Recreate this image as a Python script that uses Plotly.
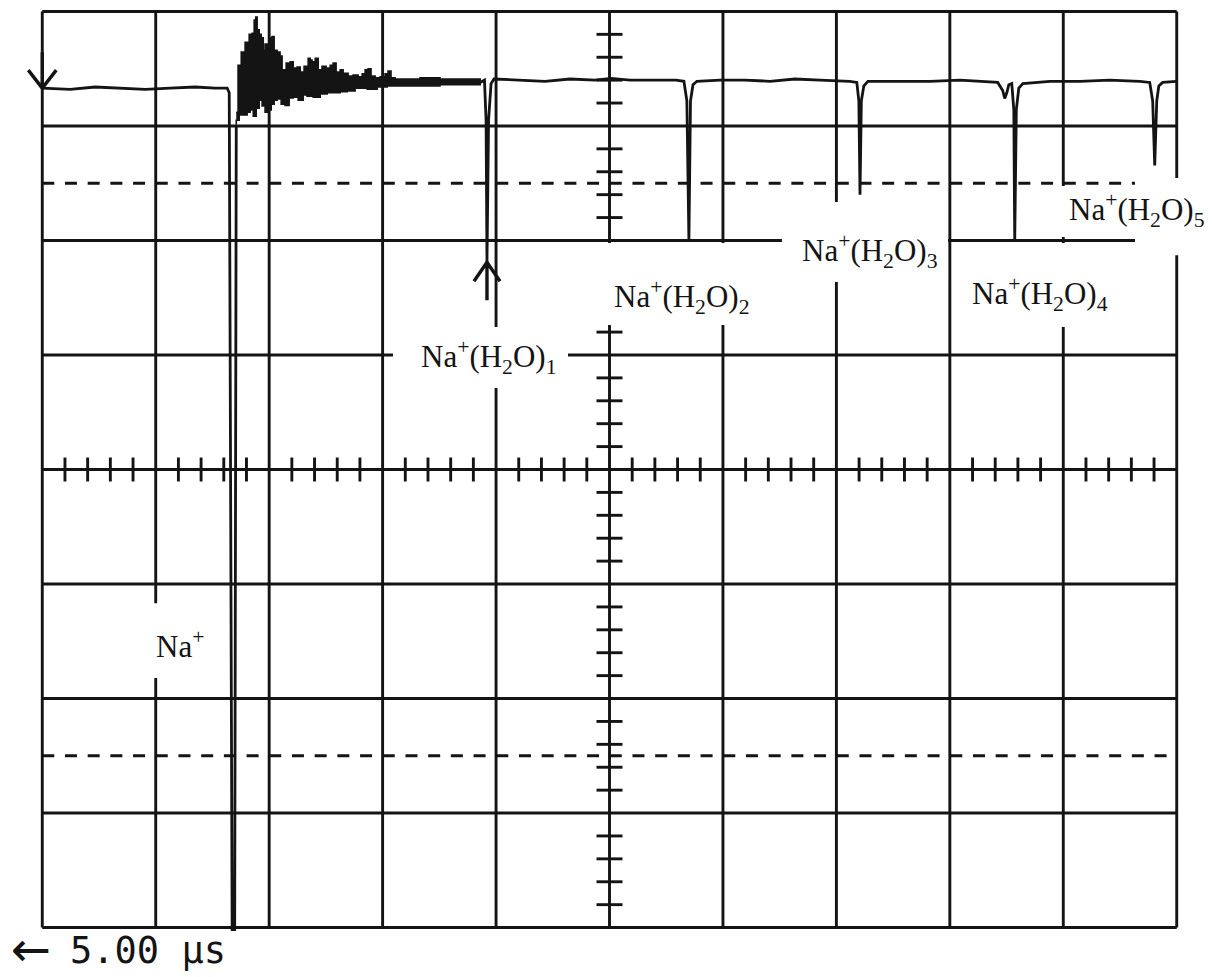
import plotly.graph_objects as go

# Time base and screen graticule of the oscilloscope
US_PER_DIV = 5.0
N_XDIV = 10
N_YDIV = 8
T_MAX = US_PER_DIV * N_XDIV
Y_HALF = N_YDIV / 2

# Trace before the ringing: flat baseline, then the saturated Na+ peak
pre_t = [0.00, 1.23, 2.33, 3.44, 4.54, 5.64, 6.74, 7.62, 8.15, 8.24, 8.37, 8.48, 8.55]
pre_v = [3.33, 3.32, 3.34, 3.33, 3.32, 3.33, 3.34, 3.33, 3.33, 3.29, -4.10, -4.10, 3.00]

# Ringing after the Na+ peak: upper and lower envelope of the band
ring_upper_t = [8.55, 8.63, 8.77, 8.94, 9.12, 9.25, 9.34, 9.41, 9.47, 9.56, 9.65, 9.74,
                9.82, 9.91, 10.04, 10.13, 10.22, 10.35, 10.48, 10.57, 10.75, 10.93,
                11.06, 11.23, 11.37, 11.54, 11.72, 11.81, 11.89, 12.03, 12.16, 12.33,
                12.51, 12.69, 12.82, 12.95, 13.13, 13.26, 13.48, 13.70, 13.92, 14.10,
                14.23, 14.36, 14.49, 14.67, 14.89, 15.11, 15.24, 15.37, 15.55, 15.99,
                16.65, 17.53, 18.41, 19.30]
ring_upper_v = [3.12, 3.53, 3.645, 3.73, 3.80, 3.81, 3.925, 3.95, 3.84, 3.80, 3.77, 3.66,
                3.715, 3.705, 3.77, 3.78, 3.66, 3.645, 3.61, 3.49, 3.55, 3.56,
                3.505, 3.515, 3.47, 3.52, 3.59, 3.575, 3.56, 3.59, 3.49, 3.52,
                3.505, 3.53, 3.55, 3.47, 3.49, 3.46, 3.435, 3.445, 3.43, 3.455,
                3.49, 3.50, 3.435, 3.42, 3.43, 3.455, 3.48, 3.42, 3.41, 3.41,
                3.42, 3.41, 3.41, 3.41]
ring_lower_t = [8.55, 8.68, 8.81, 9.03, 9.16, 9.30, 9.43, 9.56, 9.69, 9.82, 9.96, 10.09,
                10.22, 10.35, 10.53, 10.70, 10.88, 11.06, 11.28, 11.50, 11.67, 11.94,
                12.25, 12.56, 12.82, 13.13, 13.44, 13.79, 14.32, 14.76, 15.20, 15.77,
                16.65, 17.53, 18.41, 19.30]
ring_lower_v = [3.01, 3.05, 3.095, 3.095, 3.12, 3.14, 3.085, 3.155, 3.225, 3.175, 3.12, 3.14,
                3.19, 3.225, 3.235, 3.19, 3.18, 3.245, 3.25, 3.225, 3.27, 3.26,
                3.25, 3.28, 3.29, 3.29, 3.30, 3.305, 3.33, 3.32, 3.34, 3.35,
                3.35, 3.35, 3.36, 3.36]

# Trace after the ringing: baseline with the Na+(H2O)n cluster peaks
post_t = [19.30, 19.49, 19.56, 19.60, 19.67, 19.78, 19.91, 21.06, 22.16, 23.26, 24.36,
          25.07, 25.90, 27.00, 27.93, 28.28, 28.41, 28.50, 28.57, 28.68, 28.85, 29.87,
          30.97, 32.07, 33.17, 34.27, 35.59, 35.90, 35.99, 36.04, 36.10, 36.21, 36.39,
          37.80, 39.12, 40.44, 41.54, 42.11, 42.33, 42.42, 42.51, 42.60, 42.73, 42.82,
          42.86, 42.93, 43.04, 43.22, 44.41, 45.73, 47.05, 48.37, 48.81, 48.94, 49.03,
          49.12, 49.21, 49.38, 50.00]
post_v = [3.38, 3.40, 3.05, 1.81, 3.05, 3.37, 3.41, 3.40, 3.39, 3.41, 3.40,
          3.415, 3.40, 3.40, 3.40, 3.39, 3.22, 2.00, 3.22, 3.36, 3.39, 3.40,
          3.40, 3.39, 3.41, 3.40, 3.39, 3.38, 3.22, 2.40, 3.22, 3.35, 3.39,
          3.39, 3.39, 3.40, 3.39, 3.38, 3.31, 3.24, 3.29, 3.36, 3.37, 3.14,
          2.00, 3.14, 3.33, 3.37, 3.39, 3.39, 3.40, 3.39, 3.38, 3.22, 2.655,
          3.22, 3.35, 3.38, 3.39]

# Peak names, first the bare ion, then the hydrated clusters in arrival order
ion_label = "Na<sup>+</sup>"
cluster_labels = [
    "Na<sup>+</sup>(H<sub>2</sub>O)<sub>1</sub>",
    "Na<sup>+</sup>(H<sub>2</sub>O)<sub>2</sub>",
    "Na<sup>+</sup>(H<sub>2</sub>O)<sub>3</sub>",
    "Na<sup>+</sup>(H<sub>2</sub>O)<sub>4</sub>",
    "Na<sup>+</sup>(H<sub>2</sub>O)<sub>5</sub>",
]
timebase_label = "5.00 µs"

INK = "#141414"
GRID_W = 2.9
TRACE_W = 2.8
X_RANGE = [-0.1, T_MAX + 0.1]
Y_RANGE = [-Y_HALF - 0.03, Y_HALF + 0.03]


def to_paper(t, v):
    """Position of a data point as a fraction of the plotting area."""
    return ((t - X_RANGE[0]) / (X_RANGE[1] - X_RANGE[0]),
            (v - Y_RANGE[0]) / (Y_RANGE[1] - Y_RANGE[0]))


# ---------------------------------------------------------------- graticule
shapes = []
grid_line = dict(color=INK, width=GRID_W)
for k in range(N_XDIV + 1):
    x = k * US_PER_DIV
    shapes.append(dict(type="line", xref="x", yref="y", x0=x, x1=x,
                       y0=-Y_HALF, y1=Y_HALF, line=grid_line, layer="below"))
for k in range(N_YDIV + 1):
    y = -Y_HALF + k
    shapes.append(dict(type="line", xref="x", yref="y", x0=0, x1=T_MAX,
                       y0=y, y1=y, line=grid_line, layer="below"))
# dashed 10 % / 90 % rise-time lines
for y in (2.5, -2.5):
    shapes.append(dict(type="line", xref="x", yref="y", x0=0, x1=T_MAX, y0=y, y1=y,
                       line=dict(color=INK, width=GRID_W, dash="12px,10.7px"),
                       layer="below"))
# minor ticks on the central cross
for k in range(N_XDIV * 5 + 1):
    if k % 5 == 0:
        continue
    x = k * US_PER_DIV / 5
    shapes.append(dict(type="line", xref="x", yref="y", ysizemode="pixel", yanchor=0,
                       x0=x, x1=x, y0=-12, y1=12, line=grid_line, layer="below"))
for k in range(N_YDIV * 5 + 1):
    if k % 5 == 0:
        continue
    y = -Y_HALF + k / 5
    shapes.append(dict(type="line", xref="x", yref="y", xsizemode="pixel",
                       xanchor=T_MAX / 2, x0=-13, x1=13, y0=y, y1=y,
                       line=grid_line, layer="below"))

# white paper patches behind the peak names (they hide the graticule there)
patches = [
    (15.46, 23.17, 0.711, 1.244),
    (20.39, 32.95, 1.261, 1.978),
    (32.60, 39.92, 1.637, 2.336),
    (40.23, 49.79, 1.244, 1.978),
    (43.97, 52.00, 2.030, 2.475),
    (48.16, 52.00, 1.870, 2.545),
    (2.55, 7.61, -1.820, -1.167),
]
for x0, x1, y0, y1 in patches:
    shapes.append(dict(type="rect", xref="x", yref="y", x0=x0, x1=x1, y0=y0, y1=y1,
                       line=dict(width=0), fillcolor="white", layer="below"))

# arrow markers: trigger point at the trace start, and under the first cluster peak
dip_bottoms = [(t, v) for t, v in zip(post_t, post_v) if v < 3.0]
arrow_line = dict(color=INK, width=3.4)
px_, py_ = to_paper(pre_t[0], pre_v[0])
shapes.append(dict(type="path", xref="paper", yref="paper",
                   xsizemode="pixel", ysizemode="pixel", xanchor=px_, yanchor=py_,
                   path="M0,0 L0,36 M-14,18 L0,0 L14,18", line=arrow_line,
                   layer="above"))
px_, py_ = to_paper(*dip_bottoms[0])
shapes.append(dict(type="path", xref="paper", yref="paper",
                   xsizemode="pixel", ysizemode="pixel", xanchor=px_, yanchor=py_,
                   path="M0,0 L0,-38 M-13,-19 L0,0 L13,-19", line=arrow_line,
                   layer="above"))

# ---------------------------------------------------------------- traces
fig = go.Figure()
trace_line = dict(color=INK, width=TRACE_W)
fig.add_trace(go.Scatter(x=pre_t, y=pre_v, mode="lines", line=trace_line,
                         hoverinfo="skip"))
fig.add_trace(go.Scatter(x=ring_upper_t + ring_lower_t[::-1],
                         y=ring_upper_v + ring_lower_v[::-1],
                         mode="lines", fill="toself", fillcolor=INK,
                         line=dict(color=INK, width=1.6, shape="hv"),
                         hoverinfo="skip"))
fig.add_trace(go.Scatter(x=post_t, y=post_v, mode="lines", line=trace_line,
                         hoverinfo="skip"))

# ---------------------------------------------------------------- annotations
annotations = []
label_font = dict(family="Liberation Serif, Times New Roman, serif", size=31, color=INK)
label_places = [(6.08, -1.53)] + [(19.69, 0.98), (28.19, 1.51), (36.48, 1.91),
                                  (43.96, 1.53), (48.24, 2.27)]
for text, (lx, ly) in zip([ion_label] + cluster_labels, label_places):
    annotations.append(dict(x=lx, y=ly, xref="x", yref="y", text=text,
                            showarrow=False, font=label_font,
                            xanchor="center", yanchor="middle"))

# time base readout below the screen
annotations.append(dict(x=-0.0079, y=-0.019, xref="paper", yref="paper", text="←",
                        showarrow=False, xanchor="center", yanchor="middle",
                        font=dict(family="DejaVu Sans", size=48, color=INK)))
annotations.append(dict(x=0.0246, y=-0.0206, xref="paper", yref="paper",
                        text=timebase_label, showarrow=False, xanchor="left",
                        yanchor="middle",
                        font=dict(family="DejaVu Sans Mono", size=37, color=INK)))

fig.update_layout(
    width=1212, height=977,
    margin=dict(l=40, r=33, t=8, b=46, pad=0),
    paper_bgcolor="white", plot_bgcolor="white",
    showlegend=False,
    shapes=shapes,
    annotations=annotations,
    xaxis=dict(range=X_RANGE, visible=False, showgrid=False, zeroline=False),
    yaxis=dict(range=Y_RANGE, visible=False, showgrid=False, zeroline=False),
)

fig.write_html("out.html", config=dict(displayModeBar=False))
